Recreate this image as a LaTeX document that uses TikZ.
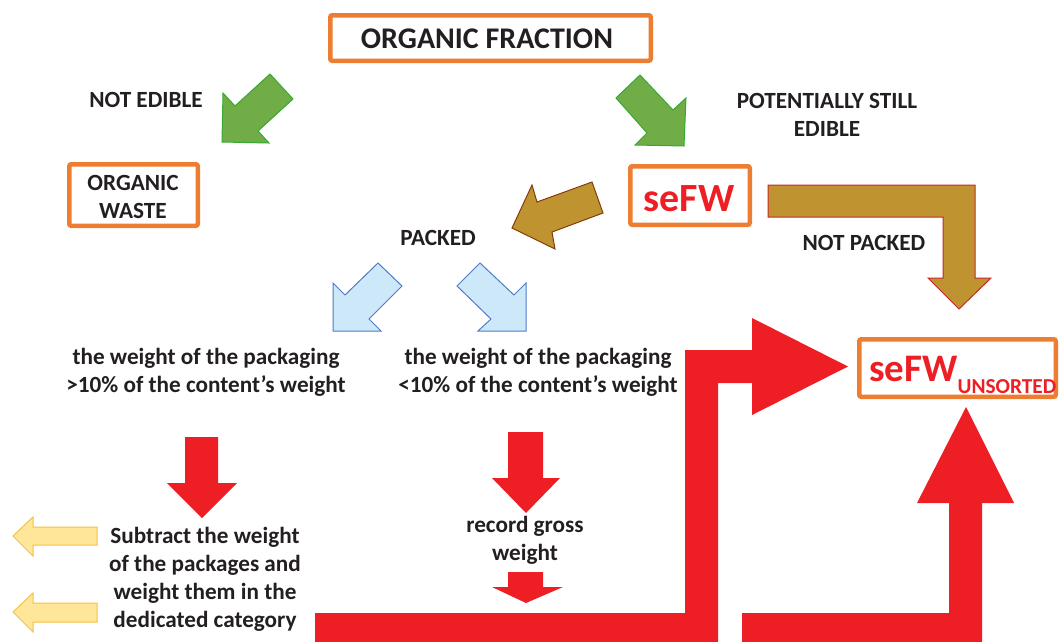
\documentclass[tikz,border=0pt]{standalone}
\usepackage{fontspec}
\setmainfont{Carlito}
\definecolor{orangeC}{HTML}{ED7D31}
\definecolor{txt}{HTML}{231F20}
\definecolor{redC}{HTML}{ED1F24}
\definecolor{greenF}{HTML}{70AD47}
\definecolor{greenD}{HTML}{36A935}
\definecolor{brownF}{HTML}{BE9330}
\definecolor{brownD}{HTML}{843C0C}
\definecolor{brownR}{HTML}{C8282D}
\definecolor{blueF}{HTML}{CDE9F9}
\definecolor{blueD}{HTML}{4F7BC9}
\definecolor{yelF}{HTML}{FFE699}
\definecolor{yelD}{HTML}{F5C242}
\begin{document}
\begin{tikzpicture}[x=1pt,y=-1pt,
  box/.style={draw=orangeC, line width=4.5pt, rounded corners=2pt, inner sep=0pt, fill=white},
  lbl/.style={font=\bfseries\fontsize{23.2}{28}\selectfont, text=txt, align=center, inner sep=0pt},
  greenarrow/.style={fill=greenF, draw=greenD, line width=1pt, line join=miter},
  brownarrow/.style={fill=brownF, draw=brownD, line width=1pt},
  blockarrow/.style={fill=brownF, draw=brownR, line width=1pt},
  bluearrow/.style={fill=blueF, draw=blueD, line width=1pt},
  redarrow/.style={fill=redC, draw=none},
  yelarrow/.style={fill=yelF, draw=yelD, line width=1pt}]
\useasboundingbox (0,0) rectangle (1060,641);

% boxes
\node[box, minimum width=320.5pt, minimum height=45.5pt] (of) at (490.5,38) {};
\node[font=\bfseries\fontsize{30}{36}\selectfont, text=txt, inner sep=0pt, anchor=base] (oft) at (487,48.5) {ORGANIC FRACTION};
\node[box, minimum width=128.5pt, minimum height=61.5pt] (ow) at (133.5,195) {};
\node[lbl, anchor=base] (owt) at (133,218) {ORGANIC\\WASTE};
\node[box, minimum width=119.5pt, minimum height=58.5pt] (sf) at (690,195.5) {};
\node[font=\bfseries\fontsize{40}{48}\selectfont, text=redC, inner sep=0pt, anchor=base] (sft) at (689,211.5) {seFW};
\node[box, minimum width=196.5pt, minimum height=57.5pt] (su) at (957.5,368) {};
\node[font=\bfseries\fontsize{39}{46}\selectfont, text=redC, inner sep=0pt, anchor=base west] (sut) at (869,381.5) {seFW\raisebox{-12pt}{\fontsize{21.3}{24}\selectfont UNSORTED}};

% green arrows
\draw[greenarrow] (222,142) -- (223,93) -- (235,106) -- (270,74) -- (293,99) -- (258,131) -- (269,143) -- cycle;
\draw[greenarrow] (684,146) -- (686,98) -- (673,110) -- (640,75) -- (616,98) -- (647,133) -- (635,145) -- cycle;

% brown arrows
\draw[brownarrow] (592,182) -- (603,213) -- (552,232) -- (555,249) -- (512,228) -- (532,185) -- (537,202) -- cycle;
\draw[blockarrow] (768,185) -- (975,185) -- (975,278) -- (991,278) -- (959,309) -- (928,278) -- (943,278) -- (943,217) -- (768,217) -- cycle;

% blue arrows
\draw[bluearrow] (378,263) -- (402,286) -- (369,319) -- (381,331) -- (333,331) -- (333,283) -- (345,295) -- cycle;
\draw[bluearrow] (480,263) -- (457,286) -- (491,319) -- (478,331) -- (526,331) -- (526,283) -- (514,295) -- cycle;

% red arrows
\fill[redarrow] (185,437) -- (218,437) -- (218,483) -- (237,483) -- (202,518) -- (167,483) -- (185,483) -- cycle;
\fill[redarrow] (508,432) -- (543,432) -- (543,478) -- (560,478) -- (526,513) -- (492,478) -- (508,478) -- cycle;
\fill[redarrow] (508,572) -- (543,572) -- (543,587) -- (563,587) -- (526,603) -- (492,587) -- (508,587) -- cycle;
\fill[redarrow] (315,645) -- (315,613) -- (685,613) -- (685,350) -- (752,350) -- (752,318) -- (848,366.5) -- (752,415) -- (752,383) -- (718,383) -- (718,645) -- cycle;
\fill[redarrow] (742,645) -- (742,613) -- (949,613) -- (949,503) -- (917,503) -- (966,407) -- (1014,503) -- (982,503) -- (982,645) -- cycle;

% yellow arrows
\draw[yelarrow] (97,527) -- (33,527) -- (33,517) -- (13,536) -- (33,556) -- (33,545) -- (97,545) -- cycle;
\draw[yelarrow] (97,603) -- (33,603) -- (33,593) -- (13,612) -- (33,632) -- (33,622) -- (97,622) -- cycle;

% labels
\node[lbl, anchor=base] (ne) at (146,107) {NOT EDIBLE};
\node[lbl, anchor=base] (pe) at (827,136) {POTENTIALLY STILL\\EDIBLE};
\node[lbl, anchor=base] (pk) at (438,245) {PACKED};
\node[lbl, anchor=base] (np) at (864,250) {NOT PACKED};
\node[lbl, anchor=base] (w1) at (206,392) {the weight of the packaging\\>10\% of the content’s weight};
\node[lbl, anchor=base] (w2) at (538,392) {the weight of the packaging\\<10\% of the content’s weight};
\node[lbl, anchor=base] (sub) at (205,627.5) {Subtract the weight\\of the packages and\\weight them in the\\dedicated category};
\node[lbl, anchor=base] (rg) at (525,560) {record gross\\weight};
\end{tikzpicture}
\end{document}
